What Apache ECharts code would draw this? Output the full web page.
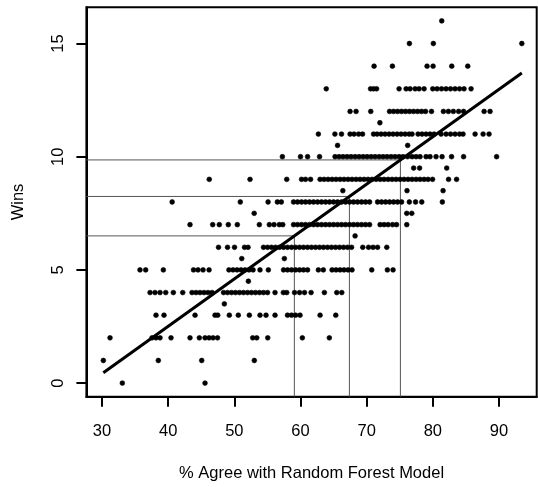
<!DOCTYPE html>
<html><head><meta charset="utf-8">
<script src="https://cdn.jsdelivr.net/npm/echarts@6/dist/echarts.min.js"></script>
<style>html,body{margin:0;padding:0;background:#fff}#c{width:538px;height:487px}</style>
</head><body><div id="c"></div>
<script>
// Tick labels
const xTicks = [30, 40, 50, 60, 70, 80, 90];
const yTicks = [0, 5, 10, 15];

// % Agree values for each Wins level
const wins16 = [81.35];
const wins15 = [76.46, 80.08, 93.45];
const wins14 = [71.12, 73.89, 79.13, 80.04, 82.86, 85.28];
const wins13 = [63.89, 70.59, 71.04, 71.5, 74.9, 75.96, 76.56, 77.32, 77.92, 78.68, 79.99, 80.64, 81.32, 82.0, 82.68, 83.36, 84.04, 84.72, 85.78];
const wins12 = [67.49, 68.4, 70.62, 73.46, 74.07, 74.67, 75.28, 75.88, 76.49, 77.09, 77.7, 78.3, 78.9, 79.8, 81.6, 82.35, 83.1, 83.9, 84.65, 87.75, 88.65];
const wins11_5 = [72.0];
const wins11 = [62.7, 65.2, 66.2, 67.49, 68.09, 68.78, 69.38, 71.04, 71.57, 72.18, 72.78, 73.39, 73.99, 74.6, 75.2, 75.81, 76.41, 76.86, 77.77, 78.37, 78.98, 79.58, 80.19, 81.25, 82.0, 82.68, 83.36, 84.04, 84.57, 86.39, 87.6, 88.5];
const wins10_5 = [65.6, 76.2];
const wins10 = [57.26, 60.0, 61.07, 62.88, 65.22, 65.83, 66.43, 67.04, 67.64, 68.25, 68.85, 69.46, 70.06, 70.67, 71.27, 71.88, 72.48, 73.08, 73.69, 74.29, 74.9, 75.5, 76.18, 76.86, 77.47, 78.07, 78.98, 79.58, 80.49, 81.4, 82.83, 84.65, 89.64];
const wins9_5 = [77.1, 78.0, 82.1];
const wins9 = [46.21, 52.37, 57.92, 60.16, 60.76, 61.52, 62.96, 63.56, 64.17, 64.77, 65.37, 65.98, 66.58, 67.19, 67.79, 68.4, 69.0, 69.61, 70.21, 70.82, 71.42, 72.03, 72.63, 73.24, 73.84, 74.44, 75.05, 75.65, 76.26, 76.86, 77.47, 78.07, 78.68, 79.28, 79.96, 82.38, 83.59];
const wins8_5 = [66.4, 76.1, 81.55];
const wins8 = [40.6, 50.9, 55.1, 56.5, 57.1, 58.95, 59.55, 60.16, 60.76, 61.37, 61.97, 62.58, 63.18, 63.79, 64.39, 65.0, 65.6, 66.21, 66.81, 67.42, 68.02, 68.62, 69.23, 69.83, 70.44, 71.65, 72.25, 72.86, 73.46, 74.07, 74.67, 75.28, 76.45, 77.39, 78.33, 81.44];
const wins7_5 = [53.0, 76.06, 76.82];
const wins7 = [43.3, 46.73, 47.73, 49.09, 50.45, 53.78, 55.29, 56.0, 56.8, 57.32, 58.95, 59.55, 60.16, 60.76, 61.37, 61.97, 62.58, 63.18, 63.79, 64.39, 65.0, 65.6, 66.21, 66.81, 67.42, 68.02, 68.62, 69.23, 69.83, 70.44, 72.03, 72.63, 73.24, 73.92, 74.52, 76.06];
const wins6_5 = [68.25];
const wins6 = [47.61, 48.97, 50.03, 51.54, 52.07, 54.41, 55.02, 55.62, 56.23, 56.83, 57.44, 58.04, 58.65, 59.25, 59.86, 60.46, 61.07, 61.67, 62.28, 62.88, 63.48, 64.09, 64.69, 65.3, 65.9, 66.51, 67.11, 67.72, 69.41, 70.29, 70.97, 71.65, 73.04];
const wins5_5 = [51.12, 57.56];
const wins5 = [35.74, 36.6, 39.27, 43.83, 44.51, 45.27, 46.18, 49.18, 49.8, 50.41, 51.01, 51.62, 52.22, 52.83, 53.88, 55.14, 57.44, 58.04, 58.65, 59.25, 59.86, 60.46, 61.07, 62.7, 63.45, 64.77, 65.37, 65.98, 66.58, 67.19, 67.79, 70.77, 73.13, 73.99];
const wins4_5 = [52.12];
const wins4 = [37.26, 38.01, 38.77, 39.63, 40.78, 42.2, 43.6, 44.21, 44.81, 45.42, 46.02, 46.63, 48.37, 48.97, 49.58, 50.18, 50.79, 51.39, 52.0, 52.6, 53.2, 53.81, 54.41, 55.02, 56.15, 57.41, 57.92, 59.1, 59.86, 60.61, 61.6, 63.61, 65.48, 66.24];
const wins3_5 = [48.49];
const wins3 = [38.16, 39.37, 44.06, 47.08, 47.49, 49.24, 50.6, 52.27, 53.88, 54.79, 56.15, 58.04, 58.65, 59.25, 59.93, 62.96, 65.33];
const wins2 = [31.21, 37.56, 38.16, 38.77, 40.43, 43.3, 44.71, 45.57, 46.18, 46.78, 47.46, 52.78, 53.39, 55.05, 60.28, 64.36];
const wins1 = [30.2, 38.51, 45.07, 53.02];
const wins0 = [33.07, 45.57];

const winsRows = [
  [16, wins16], [15, wins15], [14, wins14], [13, wins13], [12, wins12],
  [11.5, wins11_5], [11, wins11], [10.5, wins10_5], [10, wins10],
  [9.5, wins9_5], [9, wins9], [8.5, wins8_5], [8, wins8], [7.5, wins7_5],
  [7, wins7], [6.5, wins6_5], [6, wins6], [5.5, wins5_5], [5, wins5],
  [4.5, wins4_5], [4, wins4], [3.5, wins3_5], [3, wins3], [2, wins2],
  [1, wins1], [0, wins0]
];

// Fitted line and the three marked agreement values
const fitIntercept = -5.86;
const fitSlope = 0.2093;
const refAgree = [59.07, 67.39, 75.1];

const X_MIN = 27.64, X_MAX = 95.7, Y_MIN = -0.6, Y_MAX = 16.6;

const points = [];
winsRows.forEach(([w, xs]) => xs.forEach(x => points.push([x, w])));
const allX = points.map(p => p[0]);
const dataMinX = Math.min(...allX), dataMaxX = Math.max(...allX);
const fit = x => fitIntercept + fitSlope * x;

const FONT = 'Liberation Sans, Arial, Helvetica, sans-serif';
const series = [];
refAgree.forEach(a => {
  series.push({
    type: 'line', symbol: 'none', silent: true, z: 1,
    lineStyle: { color: '#555', width: 1 },
    data: [[X_MIN, fit(a)], [a, fit(a)], [a, Y_MIN]]
  });
});
series.push({
  type: 'scatter', symbol: 'circle', symbolSize: 4.8, z: 2,
  itemStyle: { color: '#000', borderColor: '#000', borderWidth: 0.6, opacity: 1 }, data: points
});
series.push({
  type: 'line', symbol: 'none', z: 3,
  lineStyle: { color: '#000', width: 3 },
  data: [[dataMinX, fit(dataMinX)], [dataMaxX, fit(dataMaxX)]]
});

const chart = echarts.init(document.getElementById('c'), null, { renderer: 'canvas' });
chart.setOption({
  animation: false,
  backgroundColor: '#fff',
  grid: { left: 86.4, right: 1.3, top: 7.3, bottom: 90.3, show: true, borderColor: '#000', borderWidth: 2, backgroundColor: 'transparent' },
  xAxis: {
    type: 'value', min: X_MIN, max: X_MAX,
    name: '% Agree with Random Forest Model', nameLocation: 'middle', nameGap: 68,
    nameTextStyle: { color: '#000', fontSize: 16.5, fontFamily: FONT },
    axisLine: { show: true, onZero: false, lineStyle: { color: '#000', width: 2 } },
    axisTick: { show: true, inside: false, customValues: xTicks, length: 10, lineStyle: { color: '#000', width: 2 } },
    axisLabel: { customValues: xTicks, color: '#000', fontSize: 16.5, fontFamily: FONT, margin: 26 },
    splitLine: { show: false }
  },
  yAxis: {
    type: 'value', min: Y_MIN, max: Y_MAX,
    name: 'Wins', nameLocation: 'middle', nameGap: 59, nameRotate: 90,
    nameTextStyle: { color: '#000', fontSize: 16.5, fontFamily: FONT },
    axisLine: { show: true, onZero: false, lineStyle: { color: '#000', width: 2 } },
    axisTick: { show: true, inside: false, customValues: yTicks, length: 10, lineStyle: { color: '#000', width: 2 } },
    axisLabel: { customValues: yTicks, color: '#000', fontSize: 16.5, fontFamily: FONT, margin: 19, rotate: 90 },
    splitLine: { show: false }
  },
  series: series
});
</script></body></html>
